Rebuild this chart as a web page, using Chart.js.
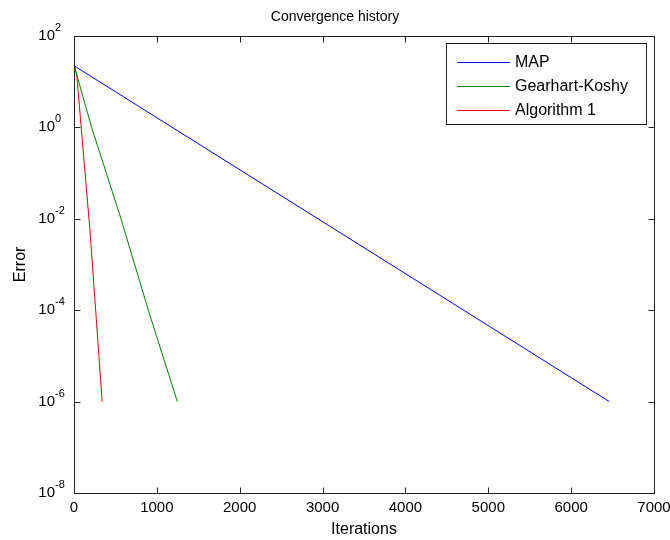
<!DOCTYPE html>
<html>
<head>
<meta charset="utf-8">
<script src="https://cdn.jsdelivr.net/npm/chart.js@4.4.1/dist/chart.umd.min.js"></script>
<style>
  html, body { margin: 0; padding: 0; background: #fff; }
  #wrap { width: 670px; height: 540px; }
</style>
</head>
<body>
<div id="wrap"><canvas id="conv-chart" width="670" height="540"></canvas></div>
<script>
// Data
const mapIter = [0, 3, 6460];
const mapError = [33, 22, 1e-6];

const gkIter = [0, 3, 212, 567, 897, 1247];
const gkError = [33, 22, 1, 1e-2, 1e-4, 1e-6];

const algIter = [0, 3, 33, 193, 340];
const algError = [33, 22, 14, 0.0055, 1e-6];

const seriesNames = ['MAP', 'Gearhart-Koshy', 'Algorithm 1'];
const seriesColors = ['#0000ff', '#008000', '#ff0000'];

const xTicks = [0, 1000, 2000, 3000, 4000, 5000, 6000, 7000];
const yTicks = [1e-8, 1e-6, 1e-4, 1e-2, 1, 1e2];
const yTickExponents = ['-8', '-6', '-4', '-2', '0', '2'];

const FONT = 'Liberation Sans, Arial, sans-serif';

function toPoints(xs, ys) {
  return xs.map((x, i) => ({ x: x, y: ys[i] }));
}

// Kotak sumbu + tick ke dalam (gaya MATLAB)
const boxPlugin = {
  id: 'matlabBox',
  afterDraw(chart) {
    const ctx = chart.ctx;
    const a = chart.chartArea;
    const xs = chart.scales.x;
    const ys = chart.scales.y;
    const L = Math.round(a.left) + 0.5, R = Math.round(a.right) + 0.5;
    const T = Math.round(a.top) + 0.5, B = Math.round(a.bottom) + 0.5;
    const len = 6;
    ctx.save();
    ctx.strokeStyle = '#222';
    ctx.lineWidth = 1;
    ctx.strokeRect(L, T, R - L, B - T);
    ctx.beginPath();
    xTicks.forEach(v => {
      const px = Math.round(xs.getPixelForValue(v)) + 0.5;
      ctx.moveTo(px, B); ctx.lineTo(px, B - len);
      ctx.moveTo(px, T); ctx.lineTo(px, T + len);
    });
    yTicks.forEach(v => {
      const py = Math.round(ys.getPixelForValue(v)) + 0.5;
      ctx.moveTo(L, py); ctx.lineTo(L + len, py);
      ctx.moveTo(R, py); ctx.lineTo(R - len, py);
    });
    ctx.stroke();

    // label sumbu y: "10" dengan pangkat (superscript)
    ctx.fillStyle = '#000';
    ctx.textBaseline = 'middle';
    yTicks.forEach((v, i) => {
      const py = ys.getPixelForValue(v);
      const xr = a.left - 19;
      ctx.font = '15px ' + FONT;
      ctx.textAlign = 'right';
      ctx.fillText('10', xr, py);
      ctx.font = '11px ' + FONT;
      ctx.textAlign = 'left';
      ctx.fillText(yTickExponents[i], xr, py - 8);
    });
    ctx.restore();
  }
};

// Legenda di dalam area plot dengan bingkai
const legendBoxPlugin = {
  id: 'legendBox',
  afterDraw(chart) {
    const ctx = chart.ctx;
    const a = chart.chartArea;
    const right = a.right - 8;
    const left = right - 200;
    const top = a.top + 7;
    const rowH = 24;
    const h = 81;
    ctx.save();
    ctx.fillStyle = '#fff';
    ctx.fillRect(left, top, right - left, h);
    ctx.strokeStyle = '#222';
    ctx.lineWidth = 1;
    ctx.strokeRect(Math.round(left) + 0.5, Math.round(top) + 0.5, Math.round(right - left), h);
    ctx.font = '16px ' + FONT;
    ctx.textBaseline = 'middle';
    chart.data.datasets.forEach((ds, i) => {
      const y = Math.round(top + 19 + i * rowH) + 0.5;
      ctx.strokeStyle = ds.borderColor;
      ctx.beginPath();
      ctx.moveTo(left + 11, y);
      ctx.lineTo(left + 64, y);
      ctx.stroke();
      ctx.fillStyle = '#000';
      ctx.fillText(ds.label, left + 69, y);
    });
    ctx.restore();
  }
};

const datasets = [
  toPoints(mapIter, mapError),
  toPoints(gkIter, gkError),
  toPoints(algIter, algError)
].map((pts, i) => ({
  label: seriesNames[i],
  data: pts,
  borderColor: seriesColors[i],
  backgroundColor: seriesColors[i],
  borderWidth: 1,
  pointRadius: 0,
  tension: 0,
  fill: false
}));

new Chart(document.getElementById('conv-chart').getContext('2d'), {
  type: 'line',
  data: { datasets: datasets },
  options: {
    responsive: false,
    animation: false,
    layout: { padding: { left: 0, right: 0, top: 0, bottom: 0 } },
    plugins: {
      legend: { display: false },
      tooltip: { enabled: false },
      title: {
        display: true,
        text: 'Convergence history',
        color: '#000',
        font: { family: FONT, size: 14, weight: 'normal' },
        padding: { top: 9, bottom: 10 }
      }
    },
    scales: {
      x: {
        type: 'linear',
        min: 0,
        max: 7000,
        afterBuildTicks: s => { s.ticks = xTicks.map(v => ({ value: v })); },
        afterFit: s => { s.height = 47; s.paddingLeft = 0; s.paddingRight = 16; },
        grid: { display: false, drawTicks: false },
        border: { display: false },
        ticks: {
          color: '#000',
          font: { family: FONT, size: 15 },
          padding: 6,
          maxRotation: 0,
          autoSkip: false,
          callback: v => String(v)
        },
        title: {
          display: true,
          text: 'Iterations',
          color: '#000',
          font: { family: FONT, size: 16 },
          padding: { top: 0, bottom: 1 }
        }
      },
      y: {
        type: 'logarithmic',
        min: 1e-8,
        max: 1e2,
        afterBuildTicks: s => { s.ticks = yTicks.map(v => ({ value: v })); },
        afterFit: s => { s.width = 74; s.paddingTop = 0; s.paddingBottom = 0; },
        grid: { display: false, drawTicks: false },
        border: { display: false },
        ticks: { display: false },
        title: {
          display: true,
          text: 'Error',
          color: '#000',
          font: { family: FONT, size: 16 },
          padding: { top: 11, bottom: 0 }
        }
      }
    }
  },
  plugins: [boxPlugin, legendBoxPlugin]
});
</script>
</body>
</html>
